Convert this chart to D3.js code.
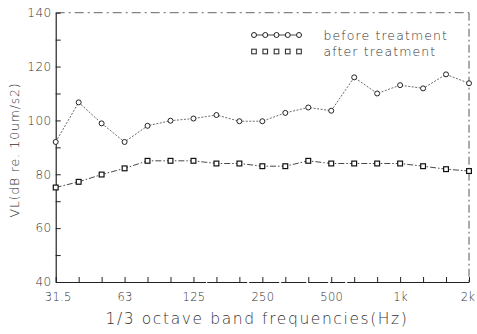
<!DOCTYPE html>
<html>
<head>
<meta charset="utf-8">
<script src="https://cdn.jsdelivr.net/npm/d3@7"></script>
<style>
  body { margin: 0; background: #fff; }
  text { font-family: "DejaVu Sans", sans-serif; font-weight: 200; fill: #333; }
</style>
</head>
<body>
<script>
// 1/3 octave bands
var bands = ["31.5", "40", "50", "63", "80", "100", "125", "160", "200", "250",
  "315", "400", "500", "630", "800", "1k", "1.25k", "1.6k", "2k"];
var before = [92, 106.7, 98.9, 92, 98, 99.9, 100.7, 102, 99.7, 99.7,
  102.8, 104.8, 103.6, 116, 110, 113.1, 111.9, 117.1, 113.8];
var after = [75.1, 77.2, 79.9, 82.2, 85, 85, 85, 84, 84, 83,
  83, 85, 84, 84, 84, 84, 83, 81.9, 81.2];
var xLabels = ["31.5", "63", "125", "250", "500", "1k", "2k"];
var yTicks = [40, 50, 60, 70, 80, 90, 100, 110, 120, 130, 140];
var yLabels = [40, 60, 80, 100, 120, 140];
var seriesNames = ["before treatment", "after treatment"];

var W = 477, H = 334;
var svg = d3.select("body").append("svg").attr("width", W).attr("height", H);

var x = d3.scalePoint().domain(bands).range([55.7, 469]);
var y = d3.scaleLinear().domain([40, 140]).range([282, 12.7]);

// frame, top and right are broken dash-dot lines
svg.append("line")
  .attr("x1", x.range()[0]).attr("x2", x.range()[1])
  .attr("y1", y(140)).attr("y2", y(140))
  .attr("stroke", "#555").attr("stroke-width", 0.9)
  .attr("stroke-dasharray", "9,4,2,4");
svg.append("line")
  .attr("x1", x.range()[1]).attr("x2", x.range()[1])
  .attr("y1", y(140)).attr("y2", y(40))
  .attr("stroke", "#444").attr("stroke-width", 0.9)
  .attr("stroke-dasharray", "8,3,2,3");

// x axis
var xAxis = svg.append("g")
  .attr("transform", "translate(0," + y(40) + ")")
  .call(d3.axisBottom(x).tickSize(-5).tickSizeOuter(0)
    .tickFormat(function (d) { return xLabels.indexOf(d) >= 0 ? d : ""; }));
xAxis.select(".domain").attr("stroke", "#222").attr("stroke-width", 1)
  .attr("stroke-dasharray", "150,1,40,2,30,2,25,2,20,2,15,2");
xAxis.selectAll(".tick line").attr("stroke", "#222");
xAxis.selectAll(".tick text").attr("y", 11).attr("font-size", 11.5)
  .attr("dx", function (d) { return d == "2k" ? -1.5 : (d == "31.5" ? 2 : 0); })
  .style("font-family", "DejaVu Sans").style("font-weight", 200).attr("fill", "#333")
  .attr("letter-spacing", 0.3);

// y axis
var yAxis = svg.append("g")
  .attr("transform", "translate(" + x.range()[0] + ",0)")
  .call(d3.axisLeft(y).tickValues(yTicks).tickSize(-5).tickSizeOuter(0)
    .tickFormat(function (d) { return yLabels.indexOf(d) >= 0 ? d : ""; }));
yAxis.select(".domain").attr("stroke", "#111").attr("stroke-width", 1.1);
yAxis.selectAll(".tick line").attr("stroke", "#222");
yAxis.selectAll(".tick text").attr("x", -4).attr("font-size", 12)
  .style("font-family", "DejaVu Sans").style("font-weight", 200).attr("fill", "#333")
  .attr("letter-spacing", 0.5);

// axis titles
svg.append("text")
  .attr("x", 257).attr("y", 324)
  .attr("text-anchor", "middle")
  .attr("font-size", 15.5)
  .attr("letter-spacing", 1.6)
  .text("1/3 octave band frequencies(Hz)");
svg.append("text")
  .attr("transform", "translate(19,150) rotate(-90)")
  .attr("text-anchor", "middle")
  .attr("font-size", 12.5)
  .attr("letter-spacing", 0.8)
  .attr("fill", "#666")
  .text("VL(dB re. 10um/s2)");

// series
var line = d3.line()
  .x(function (d, i) { return x(bands[i]); })
  .y(function (d) { return y(d); });

svg.append("path").datum(before)
  .attr("d", line).attr("fill", "none")
  .attr("stroke", "#444").attr("stroke-width", 0.8)
  .attr("stroke-dasharray", "2,1.5");
svg.append("path").datum(after)
  .attr("d", line).attr("fill", "none")
  .attr("stroke", "#333").attr("stroke-width", 0.9)
  .attr("stroke-dasharray", "6,2,1.5,2");

svg.selectAll(".pb").data(before).enter().append("circle")
  .attr("class", "pb")
  .attr("cx", function (d, i) { return x(bands[i]); })
  .attr("cy", function (d) { return y(d); })
  .attr("r", 2.5)
  .attr("fill", "#fff").attr("stroke", "#222").attr("stroke-width", 1);
svg.selectAll(".pa").data(after).enter().append("rect")
  .attr("class", "pa")
  .attr("x", function (d, i) { return x(bands[i]) - 2.4; })
  .attr("y", function (d) { return y(d) - 2.4; })
  .attr("width", 4.8).attr("height", 4.8)
  .attr("fill", "#fff").attr("stroke", "#111").attr("stroke-width", 1.2);

// legend
var legendX = d3.scaleLinear().domain([0, 4]).range([254, 299]);
var legY = [35, 51.5];
svg.append("line")
  .attr("x1", legendX(0)).attr("x2", legendX(4))
  .attr("y1", legY[0]).attr("y2", legY[0])
  .attr("stroke", "#333").attr("stroke-width", 0.9);
svg.selectAll(".lb").data(d3.range(5)).enter().append("circle")
  .attr("cx", function (d) { return legendX(d); })
  .attr("cy", legY[0]).attr("r", 2.5)
  .attr("fill", "#fff").attr("stroke", "#222").attr("stroke-width", 1);
svg.selectAll(".la").data(d3.range(5)).enter().append("rect")
  .attr("x", function (d) { return legendX(d) - 2.3; })
  .attr("y", legY[1] - 2.3).attr("width", 4.6).attr("height", 4.6)
  .attr("fill", "#fff").attr("stroke", "#333").attr("stroke-width", 1.1);
svg.selectAll(".lt").data(seriesNames).enter().append("text")
  .attr("x", 323.5)
  .attr("y", function (d, i) { return legY[i] + 4.5; })
  .attr("font-size", 12.5)
  .attr("letter-spacing", 1.1)
  .text(function (d) { return d; });
</script>
</body>
</html>
